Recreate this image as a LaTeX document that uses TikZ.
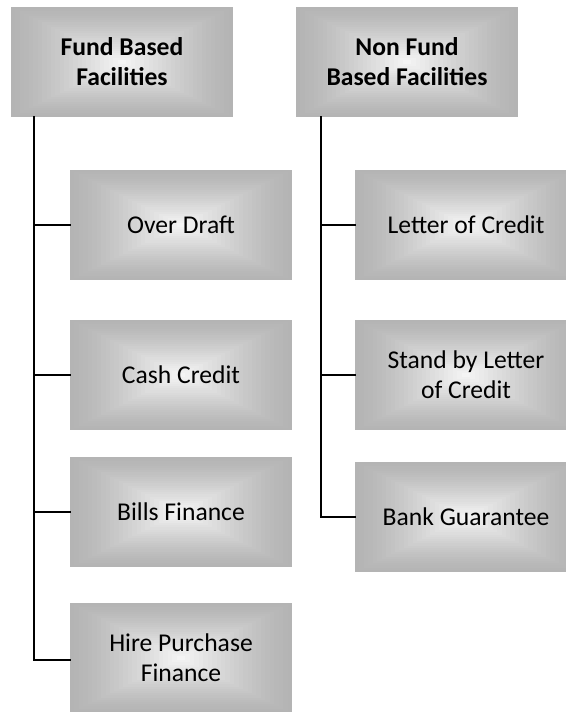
\documentclass[tikz,border=0pt]{standalone}
\usepackage{fontspec}
\setmainfont{Carlito}
\usetikzlibrary{calc}
\definecolor{edgegray}{RGB}{180,180,180}
\definecolor{centergray}{RGB}{244,244,244}
\tikzset{
  gbox/.style={minimum width=166.5pt, minimum height=82.5pt, inner sep=0pt, align=center,
    font=\fontsize{19.2}{22.5}\selectfont,
    path picture={
      \foreach \i in {0,...,24}{
        \pgfmathsetmacro\f{1-\i/25}
        \pgfmathsetmacro\t{100*(\i/24)^1.3}
        \fill[centergray!\t!edgegray]
          ($(path picture bounding box.center)!\f!(path picture bounding box.south west)$)
          rectangle
          ($(path picture bounding box.center)!\f!(path picture bounding box.north east)$);
      }
    }},
  conn/.style={line width=2pt, line cap=rect, line join=miter}
}
\begin{document}
\begin{tikzpicture}[x=0.75pt,y=-0.75pt]
\useasboundingbox (0,0) rectangle (565,712);
\node[gbox, font=\fontsize{19.2}{22.5}\selectfont\bfseries] (fb) at (122,62) {Fund Based\\Facilities};
\node[gbox, font=\fontsize{19.2}{22.5}\selectfont\bfseries] (nf) at (407,62) {Non Fund\\Based Facilities};
\node[gbox] (od) at (181,225) {Over Draft};
\node[gbox] (cc) at (181,375) {Cash Credit};
\node[gbox] (bf) at (181,512) {Bills Finance};
\node[gbox] (hp) at (181,658) {Hire Purchase\\Finance};
\node[gbox] (lc) at (466,225) {Letter of Credit};
\node[gbox] (sl) at (466,375) {Stand by Letter\\of Credit};
\node[gbox] (bg) at (466,517) {Bank Guarantee};
\coordinate (t1) at (34,117);
\coordinate (t2) at (321,117);
\draw[conn] (t1) |- ($(hp.west)+(0,2)$);
\draw[conn] (t1 |- od.west) -- (od.west);
\draw[conn] (t1 |- cc.west) -- (cc.west);
\draw[conn] (t1 |- bf.west) -- (bf.west);
\draw[conn] (t2) |- (bg.west);
\draw[conn] (t2 |- lc.west) -- (lc.west);
\draw[conn] (t2 |- sl.west) -- (sl.west);
\end{tikzpicture}
\end{document}
